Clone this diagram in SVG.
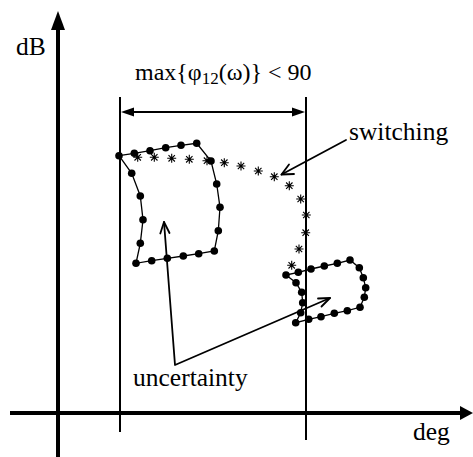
<svg xmlns="http://www.w3.org/2000/svg" xmlns:xlink="http://www.w3.org/1999/xlink" width="473" height="457" viewBox="0 0 473 457">
<style>
text{font-family:"Liberation Serif","Times New Roman",serif;font-size:24px;fill:#000}
.lb{font-size:25.5px}
.ax{stroke:#000;stroke-width:4;fill:none}
.ln{stroke:#000;stroke-width:2;fill:none}
.thin{stroke:#000;stroke-width:1.3;fill:none}
.ar{stroke:#000;stroke-width:1.8;fill:none;stroke-linecap:round;stroke-linejoin:round}
.star{stroke:#000;stroke-width:1.1;fill:none}
</style>
<defs>
<circle id="dot" r="3.8" fill="#000"/>
<path id="st" class="star" d="M-4.5,0H4.5M0,-4.5V4.5M-3.2,-3.2L3.2,3.2M-3.2,3.2L3.2,-3.2"/>
</defs>
<rect width="473" height="457" fill="#fff"/>
<g id="axes">
<line class="ax" x1="58" y1="457" x2="58" y2="26"/>
<polygon points="51,30 58,11 65,30" fill="#000"/>
<line class="ax" x1="10" y1="413" x2="462" y2="413"/>
<polygon points="460,406 473,413 460,420" fill="#000"/>
<text class="lb" x="16" y="55">dB</text>
<text class="lb" x="413" y="440">deg</text>
</g>
<g id="bounds">
<line class="ln" x1="120" y1="97" x2="120" y2="432"/>
<line class="ln" x1="306" y1="97" x2="306" y2="440"/>
<line class="ln" x1="130" y1="112" x2="296" y2="112"/>
<polygon points="121,112 134,107.5 134,116.5" fill="#000"/>
<polygon points="305,112 292,107.5 292,116.5" fill="#000"/>
<text x="135" y="80">max{φ<tspan font-size="17" dy="4">12</tspan><tspan dy="-4">(ω)} &lt; 90</tspan></text>
</g>
<g id="loop-left">
<polyline class="thin" points="119,155.7 134.3,153.3 150,150.7 165.7,147.7 181,145.3 196.7,143.3 211,161 216.7,184 220,207.3 218.3,230.7 214.3,251 198.7,253.7 183.3,256 167.3,258.3 151.7,260.7 136,263.3 140.3,243.3 143,219.7 140.3,196 131.7,173.3 119,155.7"/>
<use href="#dot" x="119" y="155.7"/><use href="#dot" x="134.3" y="153.3"/><use href="#dot" x="150" y="150.7"/><use href="#dot" x="165.7" y="147.7"/><use href="#dot" x="181" y="145.3"/><use href="#dot" x="196.7" y="143.3"/><use href="#dot" x="211" y="161"/><use href="#dot" x="216.7" y="184"/><use href="#dot" x="220" y="207.3"/><use href="#dot" x="218.3" y="230.7"/><use href="#dot" x="214.3" y="251"/><use href="#dot" x="198.7" y="253.7"/><use href="#dot" x="183.3" y="256"/><use href="#dot" x="167.3" y="258.3"/><use href="#dot" x="151.7" y="260.7"/><use href="#dot" x="136" y="263.3"/><use href="#dot" x="140.3" y="243.3"/><use href="#dot" x="143" y="219.7"/><use href="#dot" x="140.3" y="196"/><use href="#dot" x="131.7" y="173.3"/>
</g>
<g id="switching-path">
<use href="#st" x="137.7" y="157.3"/><use href="#st" x="154.3" y="157.3"/><use href="#st" x="171.7" y="158.3"/><use href="#st" x="189.3" y="159.3"/><use href="#st" x="207" y="160.7"/><use href="#st" x="224.3" y="162.7"/><use href="#st" x="241" y="166"/><use href="#st" x="258.3" y="171"/><use href="#st" x="274.3" y="176.7"/><use href="#st" x="289.3" y="185.7"/><use href="#st" x="300.7" y="199"/><use href="#st" x="306.3" y="215"/><use href="#st" x="305.7" y="232.7"/><use href="#st" x="299" y="249"/><use href="#st" x="291.7" y="265.3"/>
</g>
<g id="loop-right">
<polyline class="thin" points="286,275 298.3,272.3 311,269 324.3,266 337.3,263.3 350,260 359.3,267.7 363.3,277.7 365.7,287.7 364.3,297.3 360,307.3 347.3,310.7 334.3,313.3 321,316.7 308.7,319.3 295.7,322.7 300.7,312.7 302.7,302.7 301.7,292.3 296,282.7 286,275"/>
<use href="#dot" x="286" y="275"/><use href="#dot" x="298.3" y="272.3"/><use href="#dot" x="311" y="269"/><use href="#dot" x="324.3" y="266"/><use href="#dot" x="337.3" y="263.3"/><use href="#dot" x="350" y="260"/><use href="#dot" x="359.3" y="267.7"/><use href="#dot" x="363.3" y="277.7"/><use href="#dot" x="365.7" y="287.7"/><use href="#dot" x="364.3" y="297.3"/><use href="#dot" x="360" y="307.3"/><use href="#dot" x="347.3" y="310.7"/><use href="#dot" x="334.3" y="313.3"/><use href="#dot" x="321" y="316.7"/><use href="#dot" x="308.7" y="319.3"/><use href="#dot" x="295.7" y="322.7"/><use href="#dot" x="300.7" y="312.7"/><use href="#dot" x="302.7" y="302.7"/><use href="#dot" x="301.7" y="292.3"/><use href="#dot" x="296" y="282.7"/>
</g>
<g id="connectors">
<polyline class="ar" points="346,140 281.5,174.5"/>
<polyline class="ar" points="294,174 281.5,174.5 289,164.5"/>
<polyline class="ar" points="330,298 175,365 164,222"/>
<polyline class="ar" points="169.5,233 164,222 160.3,233.5"/>
<polyline class="ar" points="321.5,306.5 330,298 318,298.5"/>
</g>
<g id="labels">
<text class="lb" x="349" y="140">switching</text>
<text class="lb" x="133" y="386">uncertainty</text>
</g>
</svg>
